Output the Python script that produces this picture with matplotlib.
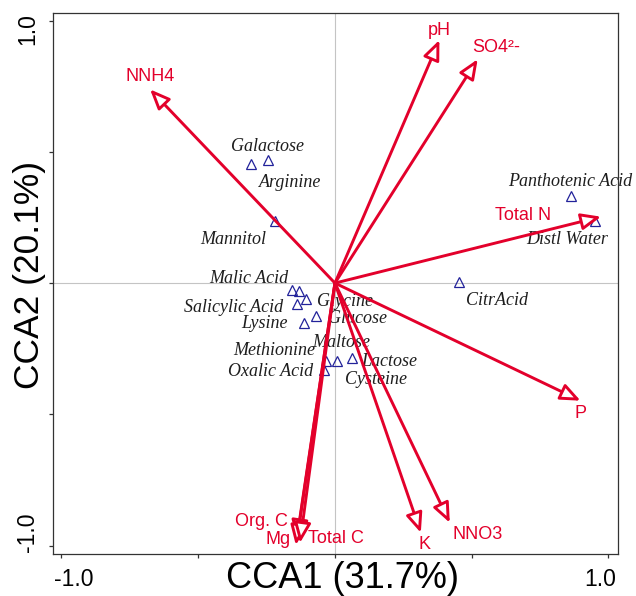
import matplotlib
matplotlib.use("Agg")
import matplotlib.pyplot as plt
import matplotlib.transforms as mtransforms

# species scores (triangles)
species = ["Galactose", "Arginine", "Mannitol", "Malic Acid", "Cysteine", "Glycine",
           "Salicylic Acid", "Glucose", "Lysine", "Methionine", "Maltose", "Lactose",
           "Oxalic Acid", "CitrAcid", "Panthotenic Acid", "Distl Water"]
sp_x = [-0.307, -0.245, -0.219, -0.156, -0.132, -0.107, -0.138, -0.071, -0.113,
        -0.034, 0.008, 0.061, -0.040, 0.453, 0.862, 0.952]
sp_y = [0.453, 0.469, 0.236, -0.026, -0.030, -0.060, -0.079, -0.125, -0.152,
        -0.297, -0.297, -0.287, -0.331, 0.003, 0.333, 0.237]

# environmental variables (arrow tips)
env = ["NNH4", "pH", "SO4²-", "Total N", "P", "NNO3", "K", "Org. C", "Mg", "Total C"]
env_x = [-0.676, 0.382, 0.522, 0.973, 0.898, 0.420, 0.314, -0.139, -0.143, -0.128]
env_y = [0.738, 0.926, 0.853, 0.253, -0.448, -0.913, -0.951, -0.979, -0.998, -0.990]

ticks = [-1.0, -0.5, 0.0, 0.5, 1.0]
tick_labels = ["-1.0", "", "", "", "1.0"]

# label offsets in pixels (dx, dy)
sp_off = [(17, 18), (22, -23), (-42, -18), (-43, 11), (77, -89), (39, -3),
          (-64, -4), (42, -3), (-40, -1), (-51, 11), (4, 19), (38, -3),
          (-53, -2), (38, -18), (-1, 14), (-28, -19)]
env_off = [(0, 13), (0, 10), (18, 12), (-78, 1), (0, -13), (28, -12),
           (4, -12), (-35, 19), (-18, 6), (36, 4)]

red = "#E3002B"
navy = "#22229A"

fig = plt.figure(figsize=(6.36, 5.96), dpi=100)
ax = fig.add_axes([0.0833, 0.0705, 0.8884, 0.9077])
ax.set_xlim(-1.031, 1.035)
ax.set_ylim(-1.032, 1.029)

ax.axhline(0, color="#c4c4c4", lw=0.8, zorder=0)
ax.axvline(0, color="#c4c4c4", lw=0.8, zorder=0)

for name, x, y, (dx, dy) in zip(env, env_x, env_y, env_off):
    ax.annotate("", xy=(x, y), xytext=(0, 0),
                arrowprops=dict(arrowstyle="-|>,head_length=1.0,head_width=0.42",
                                mutation_scale=12, ec=red, fc="white", lw=2.1,
                                shrinkA=0, shrinkB=0), zorder=3)
    ax.annotate(name, xy=(x, y), xytext=(dx, dy), textcoords="offset pixels",
                ha="center", va="center", color=red, fontsize=13,
                family="Liberation Sans", zorder=4)

ax.plot(sp_x, sp_y, linestyle="none", marker="^", markersize=7.5,
        markerfacecolor="none", markeredgecolor=navy, markeredgewidth=0.9, zorder=2)
for name, x, y, (dx, dy) in zip(species, sp_x, sp_y, sp_off):
    ax.annotate(name, xy=(x, y), xytext=(dx, dy), textcoords="offset pixels",
                ha="center", va="center", color="#1e1e1e", fontsize=13,
                family="Liberation Serif", style="italic", zorder=2)

ax.set_xticks(ticks)
ax.set_xticklabels(tick_labels, fontsize=16.5, family="Liberation Sans")
ax.set_yticks(ticks)
ax.set_yticklabels(tick_labels, fontsize=16.5, family="Liberation Sans",
                   rotation=90, va="center")
ax.tick_params(direction="out", length=3, width=0.9, color="#333333", pad=7)

# shift end labels inward like the original
xl = ax.get_xticklabels()
xl[0].set_transform(xl[0].get_transform() + mtransforms.ScaledTranslation(0.125, 0, fig.dpi_scale_trans))
xl[-1].set_transform(xl[-1].get_transform() + mtransforms.ScaledTranslation(-0.085, 0, fig.dpi_scale_trans))
yl = ax.get_yticklabels()
yl[0].set_transform(yl[0].get_transform() + mtransforms.ScaledTranslation(0, 0.135, fig.dpi_scale_trans))
yl[-1].set_transform(yl[-1].get_transform() + mtransforms.ScaledTranslation(0, -0.08, fig.dpi_scale_trans))

for s in ax.spines.values():
    s.set_color("#333333")
    s.set_linewidth(0.9)

fig.text(342 / 636, 1 - 578 / 596, "CCA1 (31.7%)", ha="center", va="center",
         fontsize=26, family="Liberation Sans")
fig.text(30 / 636, 1 - 275 / 596, "CCA2 (20.1%)", ha="center", va="center",
         rotation=90, fontsize=25.5, family="Liberation Sans")

fig.savefig("out.png", dpi=100)
